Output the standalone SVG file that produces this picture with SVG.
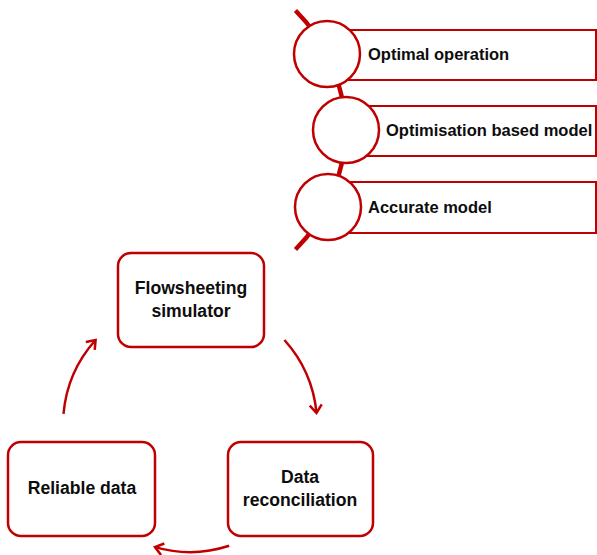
<svg xmlns="http://www.w3.org/2000/svg" width="597" height="555" viewBox="0 0 597 555">
  <defs>
    <style>
      .spine { fill: none; stroke: #c00000; stroke-width: 4.5; }
      .band { fill: #ffffff; stroke: #c00000; stroke-width: 2; }
      .bead { fill: #ffffff; stroke: #c00000; stroke-width: 2.5; }
      .box { fill: #ffffff; stroke: #c00000; stroke-width: 2.5; }
      .flow { fill: none; stroke: #c00000; stroke-width: 2.5; }
      .lbl { font-family: "Liberation Sans", Arial, sans-serif; font-weight: bold; fill: #0d0d0d; }
      .top { font-size: 16.5px; }
      .mid { font-size: 17.6px; text-anchor: middle; }
    </style>
    <marker id="chev" markerUnits="userSpaceOnUse" markerWidth="16" markerHeight="16" refX="11" refY="7" orient="auto">
      <path d="M3,1 L11,7 L3,13" fill="none" stroke="#c00000" stroke-width="2.5" stroke-linejoin="miter"/>
    </marker>
  </defs>

  <!-- curved spine behind the stacked items -->
  <path class="spine" d="M295.5,10.5 A169,169 0 0 1 295.5,249.5"/>

  <g id="item-optimal-operation">
    <rect class="band" x="327" y="30" width="269" height="50"/>
    <circle class="bead" cx="327" cy="54" r="33"/>
    <text class="lbl top" x="368" y="60">Optimal operation</text>
  </g>

  <g id="item-optimisation-model">
    <rect class="band" x="346" y="106" width="250" height="50"/>
    <circle class="bead" cx="346" cy="130" r="33"/>
    <text class="lbl top" x="386" y="136">Optimisation based model</text>
  </g>

  <g id="item-accurate-model">
    <rect class="band" x="328" y="182" width="268" height="51"/>
    <circle class="bead" cx="328" cy="207" r="33"/>
    <text class="lbl top" x="368" y="213">Accurate model</text>
  </g>

  <!-- cycle nodes -->
  <g id="node-flowsheeting">
    <rect class="box" x="118" y="253" width="146" height="94" rx="13"/>
    <text class="lbl mid" x="191" y="294">Flowsheeting</text>
    <text class="lbl mid" x="191" y="317">simulator</text>
  </g>

  <g id="node-reconciliation">
    <rect class="box" x="228" y="442" width="145" height="94" rx="13"/>
    <text class="lbl mid" x="300" y="483">Data</text>
    <text class="lbl mid" x="300" y="506">reconciliation</text>
  </g>

  <g id="node-reliable">
    <rect class="box" x="8" y="442" width="147" height="94" rx="13"/>
    <text class="lbl mid" x="82" y="494">Reliable data</text>
  </g>

  <!-- cycle connectors: arcs of one circle centred at (190,425) -->
  <g id="connectors">
    <path class="flow" d="M284.4,340 A127,127 0 0 1 316.5,413" marker-end="url(#chev)"/>
    <path class="flow" d="M229.2,545.8 A127,127 0 0 1 155,547.1" marker-end="url(#chev)"/>
    <path class="flow" d="M63.5,413.9 A127,127 0 0 1 95.6,340" marker-end="url(#chev)"/>
  </g>
</svg>
